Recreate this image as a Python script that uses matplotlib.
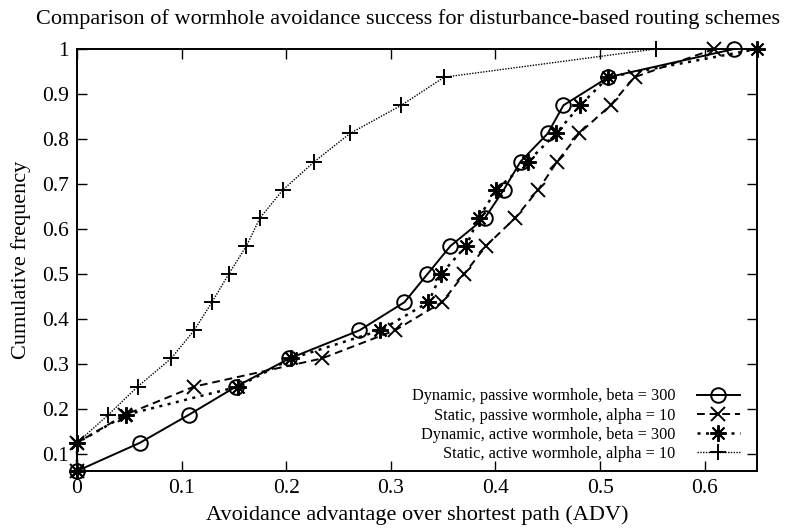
import matplotlib.pyplot as plt

plt.rcParams["font.family"] = ["Liberation Serif", "DejaVu Serif"]

# cumulative frequency levels (16 runs -> steps of 1/16)
cum_freq = [0.0625, 0.125, 0.1875, 0.25, 0.3125, 0.375, 0.4375, 0.5,
            0.5625, 0.625, 0.6875, 0.75, 0.8125, 0.875, 0.9375, 1.0]

# ADV values for each scheme, sorted
dyn_passive = [0.0, 0.060, 0.107, 0.152, 0.203, 0.270, 0.313, 0.335,
               0.357, 0.390, 0.408, 0.424, 0.450, 0.465, 0.508, 0.628]
stat_passive = [0.0, 0.0, 0.046, 0.112, 0.234, 0.304, 0.349, 0.370,
                0.391, 0.419, 0.441, 0.459, 0.480, 0.510, 0.533, 0.609]
dyn_active = [0.0, 0.0, 0.047, 0.154, 0.205, 0.290, 0.336, 0.348,
              0.372, 0.384, 0.401, 0.431, 0.458, 0.481, 0.508, 0.650]
stat_active = [0.0, 0.0, 0.030, 0.058, 0.090, 0.112, 0.129, 0.145,
               0.162, 0.175, 0.197, 0.227, 0.261, 0.310, 0.351, 0.553]

labels = ["Dynamic, passive wormhole, beta = 300",
          "Static, passive wormhole, alpha = 10",
          "Dynamic, active wormhole, beta = 300",
          "Static, active wormhole, alpha = 10"]

x_ticks = [0, 0.1, 0.2, 0.3, 0.4, 0.5, 0.6]
x_tick_labels = ["0", "0.1", "0.2", "0.3", "0.4", "0.5", "0.6"]
y_ticks = [0.1, 0.2, 0.3, 0.4, 0.5, 0.6, 0.7, 0.8, 0.9, 1.0]
y_tick_labels = ["0.1", "0.2", "0.3", "0.4", "0.5", "0.6", "0.7", "0.8", "0.9", "1"]

fig = plt.figure(figsize=(7.92, 5.30), dpi=100)
ax = fig.add_axes([0.0972, 0.1113, 0.8586, 0.7962])

common = dict(color="black", clip_on=False, markeredgewidth=1.4)
ax.plot(dyn_passive, cum_freq, linestyle="-", linewidth=1.4, marker="o",
        markersize=10.5, markerfacecolor="none", label=labels[0], **common)
ax.plot(stat_passive, cum_freq, linestyle=(0, (4, 2.5)), linewidth=1.4, marker="x",
        markersize=10, label=labels[1], **common)
ax.plot(dyn_active, cum_freq, linestyle=(0, (1.2, 2.2)), linewidth=1.8, marker=(8, 2, 0),
        markersize=12, label=labels[2], **common)
ax.plot(stat_active, cum_freq, linestyle=(0, (1, 1)), linewidth=1.0, marker="+",
        markersize=12, label=labels[3], **common)

ax.set_xlim(0, 0.65)
ax.set_ylim(0.0625, 1.0)
ax.set_xticks(x_ticks)
ax.set_xticklabels(x_tick_labels)
ax.set_yticks(y_ticks)
ax.set_yticklabels(y_tick_labels)
ax.tick_params(direction="in", length=7, width=1, top=True, right=True,
               labelsize=15.5, pad=6)
for spine in ax.spines.values():
    spine.set_linewidth(1.4)

ax.set_xlabel("Avoidance advantage over shortest path (ADV)", fontsize=16, labelpad=5)
ax.set_ylabel("Cumulative frequency", fontsize=16, labelpad=8)
ax.set_title("Comparison of wormhole avoidance success for disturbance-based routing schemes",
             fontsize=16, pad=18, x=0.487)

ax.legend(loc="lower right", frameon=False, markerfirst=False, fontsize=11.7,
          handlelength=2.65, handletextpad=1.3, labelspacing=0.2,
          borderaxespad=0.15, bbox_to_anchor=(0.988, 0.0))

fig.savefig("out.png", dpi=100)
